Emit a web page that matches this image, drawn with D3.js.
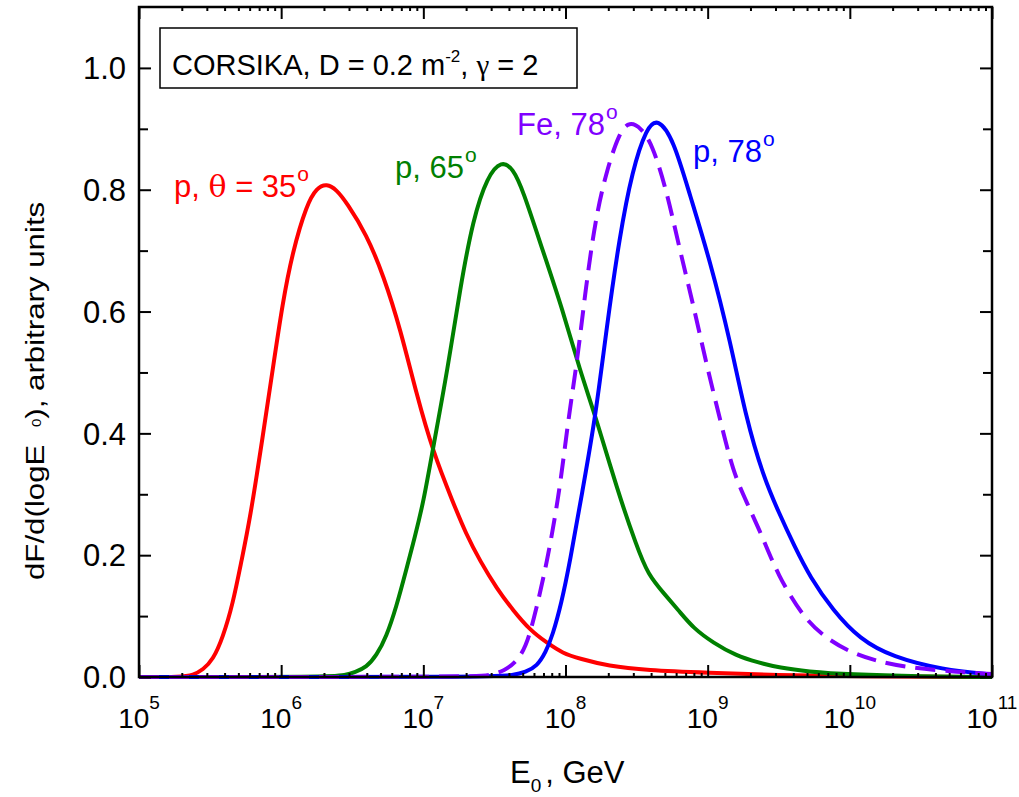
<!DOCTYPE html>
<html>
<head>
<meta charset="utf-8">
<script src="https://cdn.jsdelivr.net/npm/d3@7"></script>
<style>
  body { margin: 0; background: #fff; }
  text { font-family: Arial, "Liberation Sans", sans-serif; }
</style>
</head>
<body>
<svg id="chart" width="1019" height="797"></svg>
<script>
// log10(E0 / GeV) and dF/d(logE0), one pair of arrays per curve
let p35_logE = [5.0, 5.30, 5.38, 5.45, 5.52, 5.59, 5.66, 5.72, 5.78, 5.87, 5.94, 6.01, 6.08, 6.18, 6.25, 6.32, 6.39, 6.46, 6.60, 6.72, 6.84, 6.95, 7.07, 7.21, 7.30, 7.40, 7.52, 7.63, 7.75, 7.87, 7.98, 8.10, 8.30, 8.57, 9.0, 9.5, 10.0, 11.0];
let p35_val  = [0, 0, 0.003, 0.012, 0.028, 0.065, 0.12, 0.19, 0.258, 0.394, 0.504, 0.614, 0.698, 0.776, 0.803, 0.81, 0.80, 0.779, 0.727, 0.659, 0.570, 0.466, 0.368, 0.286, 0.235, 0.19, 0.144, 0.11, 0.077, 0.056, 0.039, 0.03, 0.018, 0.011, 0.007, 0.003, 0.001, 0];

let p65_logE = [5.0, 6.35, 6.45, 6.52, 6.60, 6.67, 6.74, 6.81, 6.88, 6.94, 7.00, 7.07, 7.17, 7.26, 7.35, 7.45, 7.55, 7.63, 7.70, 7.84, 7.98, 8.10, 8.22, 8.36, 8.50, 8.58, 8.70, 8.80, 8.90, 9.04, 9.2, 9.35, 9.51, 9.7, 10.0, 10.5, 11.0];
let p65_val  = [0, 0, 0.003, 0.008, 0.016, 0.035, 0.066, 0.115, 0.176, 0.23, 0.286, 0.378, 0.504, 0.640, 0.752, 0.822, 0.848, 0.835, 0.80, 0.70, 0.603, 0.504, 0.422, 0.31, 0.215, 0.168, 0.135, 0.108, 0.08, 0.056, 0.035, 0.024, 0.015, 0.009, 0.004, 0.001, 0];

let p78_logE = [5.0, 7.50, 7.63, 7.72, 7.80, 7.86, 7.91, 7.97, 8.03, 8.12, 8.21, 8.29, 8.38, 8.47, 8.57, 8.65, 8.76, 8.87, 9.02, 9.16, 9.27, 9.39, 9.50, 9.61, 9.72, 9.88, 10.07, 10.30, 10.65, 11.0];
let p78_val  = [0, 0, 0.003, 0.008, 0.018, 0.04, 0.069, 0.12, 0.187, 0.307, 0.425, 0.575, 0.723, 0.832, 0.902, 0.918, 0.882, 0.795, 0.681, 0.55, 0.425, 0.33, 0.27, 0.215, 0.164, 0.11, 0.062, 0.033, 0.012, 0.004];

let fe78_logE = [5.0, 7.35, 7.47, 7.57, 7.66, 7.72, 7.77, 7.87, 7.96, 8.02, 8.08, 8.14, 8.21, 8.29, 8.38, 8.45, 8.53, 8.61, 8.71, 8.80, 8.90, 8.99, 9.09, 9.18, 9.27, 9.39, 9.49, 9.67, 9.84, 10.02, 10.19, 10.42, 10.77, 11.0];
let fe78_val  = [0, 0, 0.003, 0.01, 0.026, 0.05, 0.087, 0.187, 0.307, 0.425, 0.514, 0.634, 0.752, 0.832, 0.895, 0.912, 0.902, 0.875, 0.80, 0.705, 0.61, 0.515, 0.42, 0.336, 0.289, 0.228, 0.169, 0.098, 0.062, 0.039, 0.026, 0.015, 0.008, 0.005];

// axis ticks
let x_major = [5, 6, 7, 8, 9, 10, 11];
let y_major = [0.0, 0.2, 0.4, 0.6, 0.8, 1.0];
let y_minor = [0.1, 0.3, 0.5, 0.7, 0.9];

let LEFT = 139, RIGHT = 992, TOP = 7, BOTTOM = 677;

let svg = d3.select('#chart');

let xScale = d3.scaleLinear().domain([5, 11]).range([LEFT, RIGHT]);
let yScale = d3.scaleLinear().domain([0, 1.1]).range([BOTTOM, TOP]);

// minor x ticks at 2..9 inside every decade
let x_minor = [];
for (let n = 5; n < 11; n++) {
    for (let k = 2; k <= 9; k++) x_minor.push(n + Math.log10(k));
}

// curves (dashed Fe curve drawn last, on top)
let curves = [
    { logE: p35_logE, val: p35_val, color: '#ff0000', dash: null },
    { logE: p65_logE, val: p65_val, color: '#008000', dash: null },
    { logE: p78_logE, val: p78_val, color: '#0000ff', dash: null },
    { logE: fe78_logE, val: fe78_val, color: '#8000ff', dash: '20,10' }
];

let line = d3.line()
    .x(d => xScale(d[0]))
    .y(d => yScale(d[1]))
    .curve(d3.curveBasis);

svg.append('g')
    .selectAll('path')
    .data(curves)
    .join('path')
    .attr('d', c => line(c.logE.map((e, i) => [e, c.val[i]])))
    .attr('fill', 'none')
    .attr('stroke', c => c.color)
    .attr('stroke-width', 4)
    .attr('stroke-dasharray', c => c.dash);

// axes: all ticks point inwards
function drawAxis(axis, transform) {
    let g = svg.append('g').attr('transform', transform).call(axis);
    g.select('.domain').remove();
    g.selectAll('line').attr('stroke', '#000').attr('stroke-width', 2);
    g.selectAll('text').remove();
}
drawAxis(d3.axisBottom(xScale).tickValues(x_major).tickSize(-12), `translate(0,${BOTTOM})`);
drawAxis(d3.axisBottom(xScale).tickValues(x_minor).tickSize(-4), `translate(0,${BOTTOM})`);
drawAxis(d3.axisTop(xScale).tickValues(x_major).tickSize(-12), `translate(0,${TOP})`);
drawAxis(d3.axisTop(xScale).tickValues(x_minor).tickSize(-4), `translate(0,${TOP})`);
drawAxis(d3.axisLeft(yScale).tickValues(y_major).tickSize(-12), `translate(${LEFT},0)`);
drawAxis(d3.axisLeft(yScale).tickValues(y_minor).tickSize(-9), `translate(${LEFT},0)`);
drawAxis(d3.axisRight(yScale).tickValues(y_major).tickSize(-12), `translate(${RIGHT},0)`);
drawAxis(d3.axisRight(yScale).tickValues(y_minor).tickSize(-9), `translate(${RIGHT},0)`);

// frame
svg.append('rect')
    .attr('x', LEFT).attr('y', TOP)
    .attr('width', RIGHT - LEFT).attr('height', BOTTOM - TOP)
    .attr('fill', 'none').attr('stroke', '#000').attr('stroke-width', 2.5);

// x tick labels 10^n
let xl = svg.append('g').selectAll('text')
    .data(x_major)
    .join('text')
    .attr('x', d => xScale(d))
    .attr('y', 728)
    .attr('text-anchor', 'middle')
    .attr('font-size', 28);
xl.append('tspan').text('10');
xl.append('tspan').attr('dy', -19).attr('font-size', 19).text(d => d);

// y tick labels
svg.append('g').selectAll('text')
    .data(y_major)
    .join('text')
    .attr('x', 126)
    .attr('y', d => yScale(d))
    .attr('dy', '0.36em')
    .attr('text-anchor', 'end')
    .attr('font-size', 31)
    .text(d => d.toFixed(1));

// x axis title
let xt = svg.append('text').attr('x', 510).attr('y', 783).attr('font-size', 31);
xt.append('tspan').text('E');
xt.append('tspan').attr('dy', 9).attr('font-size', 19).text('0');
xt.append('tspan').attr('dy', -9).attr('dx', 4).text(', GeV');

// y axis title (stretched along its length like the original)
let yt = svg.append('text')
    .attr('transform', 'translate(44,580) rotate(-90) scale(1.25,1)')
    .attr('font-size', 25);
yt.append('tspan').text('dF/d(logE');
yt.append('tspan').attr('dx', 14).attr('dy', -3).attr('font-size', 12).text('0');
yt.append('tspan').attr('dy', 3).text('), arbitrary units');

// curve labels
let labels = [
    { x: 174, y: 197, color: '#ff0000', pre: 'p, ', greek: 'θ', post: ' = 35' },
    { x: 395, y: 178, color: '#008000', pre: 'p, 65', greek: '', post: '' },
    { x: 517, y: 135, color: '#8000ff', pre: 'Fe, 78', greek: '', post: '' },
    { x: 693, y: 162, color: '#0000ff', pre: 'p, 78', greek: '', post: '' }
];
let lt = svg.append('g').selectAll('text')
    .data(labels)
    .join('text')
    .attr('x', d => d.x)
    .attr('y', d => d.y)
    .attr('fill', d => d.color)
    .attr('font-size', 31);
lt.append('tspan').text(d => d.pre);
lt.append('tspan').attr('font-family', '"DejaVu Serif", "Liberation Serif", serif').attr('font-size', 30).text(d => d.greek);
lt.append('tspan').text(d => d.post);
lt.append('tspan').attr('dx', 1).attr('dy', -16).attr('font-size', 21).text('o');

// legend box
svg.append('rect')
    .attr('x', 160).attr('y', 28)
    .attr('width', 417).attr('height', 60)
    .attr('fill', '#fff').attr('stroke', '#000').attr('stroke-width', 1.5);
let lg = svg.append('text').attr('x', 172).attr('y', 75).attr('font-size', 29);
lg.append('tspan').text('CORSIKA, D = 0.2 m');
lg.append('tspan').attr('dy', -13).attr('font-size', 17).text('-2');
lg.append('tspan').attr('dy', 13).text(', ');
lg.append('tspan').attr('font-family', '"Liberation Serif", "DejaVu Serif", serif').text('γ');
lg.append('tspan').text(' = 2');
</script>
</body>
</html>
